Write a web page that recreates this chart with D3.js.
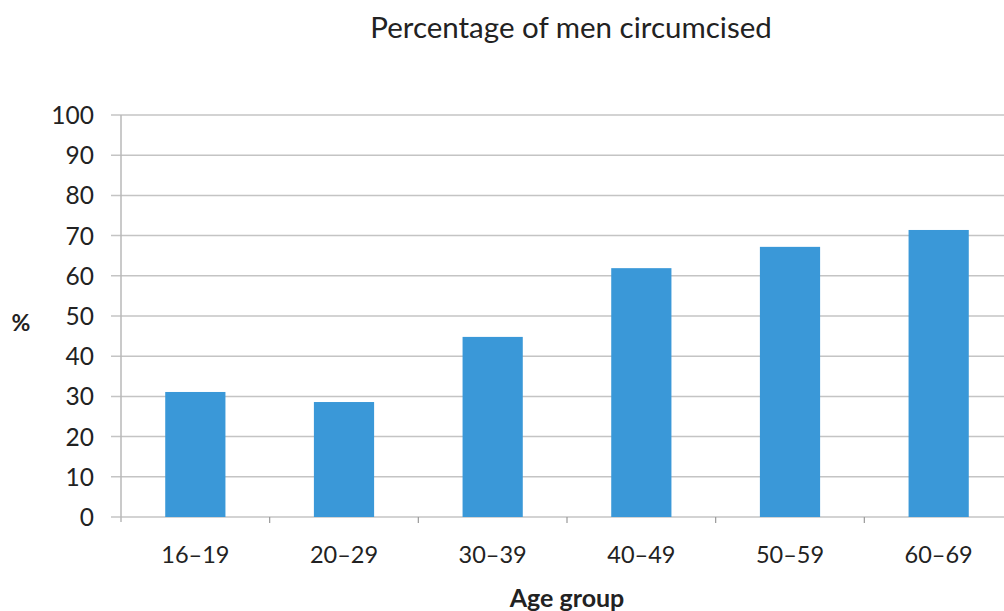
<!DOCTYPE html>
<html>
<head>
<meta charset="utf-8">
<script src="https://cdn.jsdelivr.net/npm/d3@7"></script>
<style>
  body { margin: 0; background: white; }
  text { font-family: Lato, "Open Sans", sans-serif; fill: #222; }
</style>
</head>
<body>
<div id="chart"></div>
<script>
let width = 1004, height = 611;

let margin = { top: 115, bottom: 94, left: 121, right: -9 };

let ageGroups = ['16–19', '20–29', '30–39', '40–49', '50–59', '60–69'];
let percentCircumcised = [31.1, 28.6, 44.8, 61.9, 67.2, 71.4];
let yTicks = [0, 10, 20, 30, 40, 50, 60, 70, 80, 90, 100];

let data = ageGroups.map((g, i) => ({ group: g, value: percentCircumcised[i] }));

let svg = d3.select('#chart')
  .append('svg')
  .attr('width', width)
  .attr('height', height)
  .style('background', 'white');

let xscale = d3.scaleBand()
  .domain(ageGroups)
  .range([margin.left, width - margin.right]);

let yscale = d3.scaleLinear()
  .domain([0, 100])
  .range([height - margin.bottom, margin.top]);

// gridlines
svg.append('g')
  .selectAll('line')
  .data(yTicks)
  .enter()
  .append('line')
  .attr('x1', margin.left - 10)
  .attr('x2', width)
  .attr('y1', d => yscale(d))
  .attr('y2', d => yscale(d))
  .attr('stroke', '#c4c4c4')
  .attr('stroke-width', 1.5);

// y axis line
svg.append('line')
  .attr('x1', margin.left)
  .attr('x2', margin.left)
  .attr('y1', yscale(100))
  .attr('y2', yscale(0) + 5)
  .attr('stroke', '#b8b8b8')
  .attr('stroke-width', 1.5);

// x tick marks at band boundaries
svg.append('g')
  .selectAll('line')
  .data(ageGroups.slice(1))
  .enter()
  .append('line')
  .attr('x1', d => xscale(d))
  .attr('x2', d => xscale(d))
  .attr('y1', yscale(0))
  .attr('y2', yscale(0) + 6)
  .attr('stroke', '#999')
  .attr('stroke-width', 1.2);

// bars
let barW = xscale.bandwidth() * 0.405;
svg.selectAll('rect.bar')
  .data(data)
  .enter()
  .append('rect')
  .attr('class', 'bar')
  .attr('x', d => xscale(d.group) + (xscale.bandwidth() - barW) / 2)
  .attr('y', d => yscale(d.value))
  .attr('width', barW)
  .attr('height', d => yscale(0) - yscale(d.value))
  .attr('fill', '#3a98d8');

// y tick labels
svg.append('g')
  .selectAll('text')
  .data(yTicks)
  .enter()
  .append('text')
  .text(d => d)
  .attr('x', 94)
  .attr('y', d => yscale(d) + 9)
  .attr('text-anchor', 'end')
  .style('font-size', '24.5px');

// x tick labels
svg.append('g')
  .selectAll('text')
  .data(ageGroups)
  .enter()
  .append('text')
  .text(d => d)
  .attr('x', d => xscale(d) + xscale.bandwidth() / 2)
  .attr('y', 563)
  .attr('text-anchor', 'middle')
  .style('font-size', '23.5px');

svg.append('text')
  .text('%')
  .attr('x', 21)
  .attr('y', 331)
  .attr('text-anchor', 'middle')
  .style('font-size', '23px')
  .style('font-weight', 'bold');

svg.append('text')
  .text('Age group')
  .attr('x', 567)
  .attr('y', 607)
  .attr('text-anchor', 'middle')
  .style('font-size', '25px')
  .style('font-weight', 'bold');

svg.append('text')
  .text('Percentage of men circumcised')
  .attr('x', 571)
  .attr('y', 38)
  .attr('text-anchor', 'middle')
  .style('font-size', '29.5px');
</script>
</body>
</html>
